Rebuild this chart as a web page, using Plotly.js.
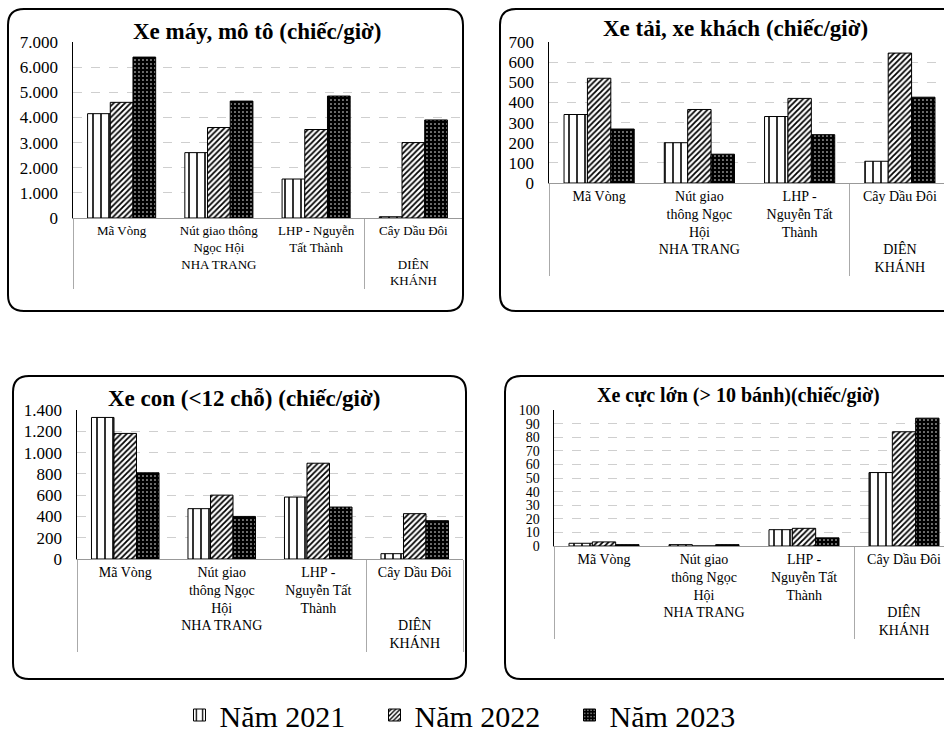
<!DOCTYPE html>
<html>
<head>
<meta charset="utf-8">
<script src="https://cdn.plot.ly/plotly-3.0.1.min.js"></script>
<style>body{margin:0}#chart{width:944px;height:749px}</style>
</head>
<body>
<div id="chart"></div>
<script>
var W = 944, H = 749;

var years = ['Năm 2021', 'Năm 2022', 'Năm 2023'];
var areas = ['NHA TRANG', 'NHA TRANG', 'NHA TRANG', 'DIÊN<br>KHÁNH'];
var sitesMoto = ['Mã Vòng', 'Nút giao thông<br>Ngọc Hội', 'LHP - Nguyễn<br>Tất Thành', 'Cây Dầu Đôi'];
var sites = ['Mã Vòng', 'Nút giao<br>thông Ngọc<br>Hội', 'LHP -<br>Nguyễn Tất<br>Thành', 'Cây Dầu Đôi'];

// Xe máy, mô tô
var moto2021 = [4150, 2600, 1550, 50];
var moto2022 = [4600, 3600, 3520, 3000];
var moto2023 = [6400, 4650, 4850, 3900];
// Xe tải, xe khách
var truck2021 = [340, 200, 330, 108];
var truck2022 = [520, 365, 420, 645];
var truck2023 = [268, 143, 240, 426];
// Xe con
var car2021 = [1330, 473, 582, 50];
var car2022 = [1180, 600, 900, 426];
var car2023 = [810, 400, 488, 360];
// Xe cực lớn
var big2021 = [2, 1, 12, 54];
var big2022 = [3, 0, 13, 84];
var big2023 = [1, 1, 6, 94];

var titles = ['Xe máy, mô tô (chiếc/giờ)', 'Xe tải, xe khách (chiếc/giờ)',
              'Xe con (<12 chỗ) (chiếc/giờ)', 'Xe cực lớn (> 10 bánh)(chiếc/giờ)'];

var serif = 'Liberation Serif';

var patterns = [
  {shape: '|', fgcolor: '#000', bgcolor: '#fff', size: 8, solidity: 0.2},
  {shape: '/', fgcolor: '#000', bgcolor: '#fff', size: 4, solidity: 0.45},
  {shape: '.', fgcolor: '#fff', bgcolor: '#000', size: 4, solidity: 0.12}
];
var fills = ['#fff', '#fff', '#000'];

function px(x) { return x / W; }
function py(y) { return 1 - y / H; }

function panel(series, labels, n) {
  var sfx = n === 1 ? '' : n;
  return series.map(function(vals, i) {
    return {
      type: 'bar',
      name: years[i],
      x: [areas, labels],
      y: vals,
      xaxis: 'x' + sfx,
      yaxis: 'y' + sfx,
      showlegend: n === 1,
      marker: {color: fills[i], line: {color: '#000', width: 1}, pattern: patterns[i]},
      hoverinfo: 'y'
    };
  });
}

var data = [].concat(
  panel([moto2021, moto2022, moto2023], sitesMoto, 1),
  panel([truck2021, truck2022, truck2023], sites, 2),
  panel([car2021, car2022, car2023], sites, 3),
  panel([big2021, big2022, big2023], sites, 4)
);

function xax(dom, range, anchor, size) {
  return {
    type: 'multicategory', domain: dom, range: range, anchor: anchor,
    tickangle: 0, ticks: '', showline: true, linecolor: '#999', linewidth: 1,
    showdividers: true, dividercolor: '#aaa', dividerwidth: 1,
    tickfont: {family: serif, size: size, color: '#000'}, fixedrange: true
  };
}
function yax(dom, max, step, anchor, size) {
  return {
    domain: dom, range: [0, max], dtick: step, anchor: anchor,
    tickformat: ',d', showline: true, linecolor: '#000', linewidth: 1.5,
    showgrid: true, gridcolor: '#cfcfcf', griddash: 'dash', zeroline: false,
    ticks: '', ticklabelstandoff: 10,
    tickfont: {family: serif, size: size, color: '#000'}, fixedrange: true
  };
}

function roundRect(x0, y0, x1, y1, r) {
  var p = function(x, y) { return px(x) + ',' + py(y); };
  return 'M' + p(x0 + r, y0) + ' L' + p(x1 - r, y0) + ' Q' + p(x1, y0) + ' ' + p(x1, y0 + r) +
    ' L' + p(x1, y1 - r) + ' Q' + p(x1, y1) + ' ' + p(x1 - r, y1) +
    ' L' + p(x0 + r, y1) + ' Q' + p(x0, y1) + ' ' + p(x0, y1 - r) +
    ' L' + p(x0, y0 + r) + ' Q' + p(x0, y0) + ' ' + p(x0 + r, y0) + ' Z';
}

var boxes = [[8, 9, 463, 311], [500, 9, 960, 311], [13, 376, 466, 679], [505, 376, 960, 679]];
var shapes = boxes.map(function(b) {
  return {type: 'path', xref: 'paper', yref: 'paper', path: roundRect(b[0], b[1], b[2], b[3], 16),
          line: {color: '#000', width: 2}};
});

var titlePos = [[257, 31, 23], [735, 28, 23], [244, 398, 23], [738, 395, 20]];
var annotations = titles.map(function(t, i) {
  return {text: '<b>' + t + '</b>', xref: 'paper', yref: 'paper', x: px(titlePos[i][0]), y: py(titlePos[i][1]),
          xanchor: 'center', yanchor: 'middle', showarrow: false,
          font: {family: serif, size: titlePos[i][2], color: '#000'}};
});

var layout = {
  width: W, height: H,
  margin: {l: 0, r: 0, t: 0, b: 0},
  paper_bgcolor: '#fff', plot_bgcolor: '#fff',
  separators: ',.',
  barmode: 'group', bargap: 0.3, bargroupgap: 0,
  font: {family: serif, color: '#000'},
  xaxis: xax([px(73), px(462)], [-0.5, 3.5], 'y', 13),
  yaxis: yax([py(218), py(42)], 7000, 1000, 'x', 17),
  xaxis2: xax([px(549), 1], [-0.5, 3.44], 'y2', 14),
  yaxis2: yax([py(183), py(42)], 700, 100, 'x2', 17),
  xaxis3: xax([px(77), px(463)], [-0.5, 3.5], 'y3', 14),
  yaxis3: yax([py(559), py(410)], 1400, 200, 'x3', 17),
  xaxis4: xax([px(554), 1], [-0.5, 3.4], 'y4', 14),
  yaxis4: yax([py(546), py(410)], 100, 10, 'x4', 14),
  shapes: shapes,
  annotations: annotations,
  showlegend: true,
  legend: {orientation: 'h', x: 0.5, xanchor: 'center', y: py(715), yanchor: 'middle',
           font: {family: serif, size: 30, color: '#000'}, entrywidth: 150, bgcolor: 'rgba(0,0,0,0)'}
};

Plotly.newPlot('chart', data, layout, {displayModeBar: false, staticPlot: true});
</script>
</body>
</html>
